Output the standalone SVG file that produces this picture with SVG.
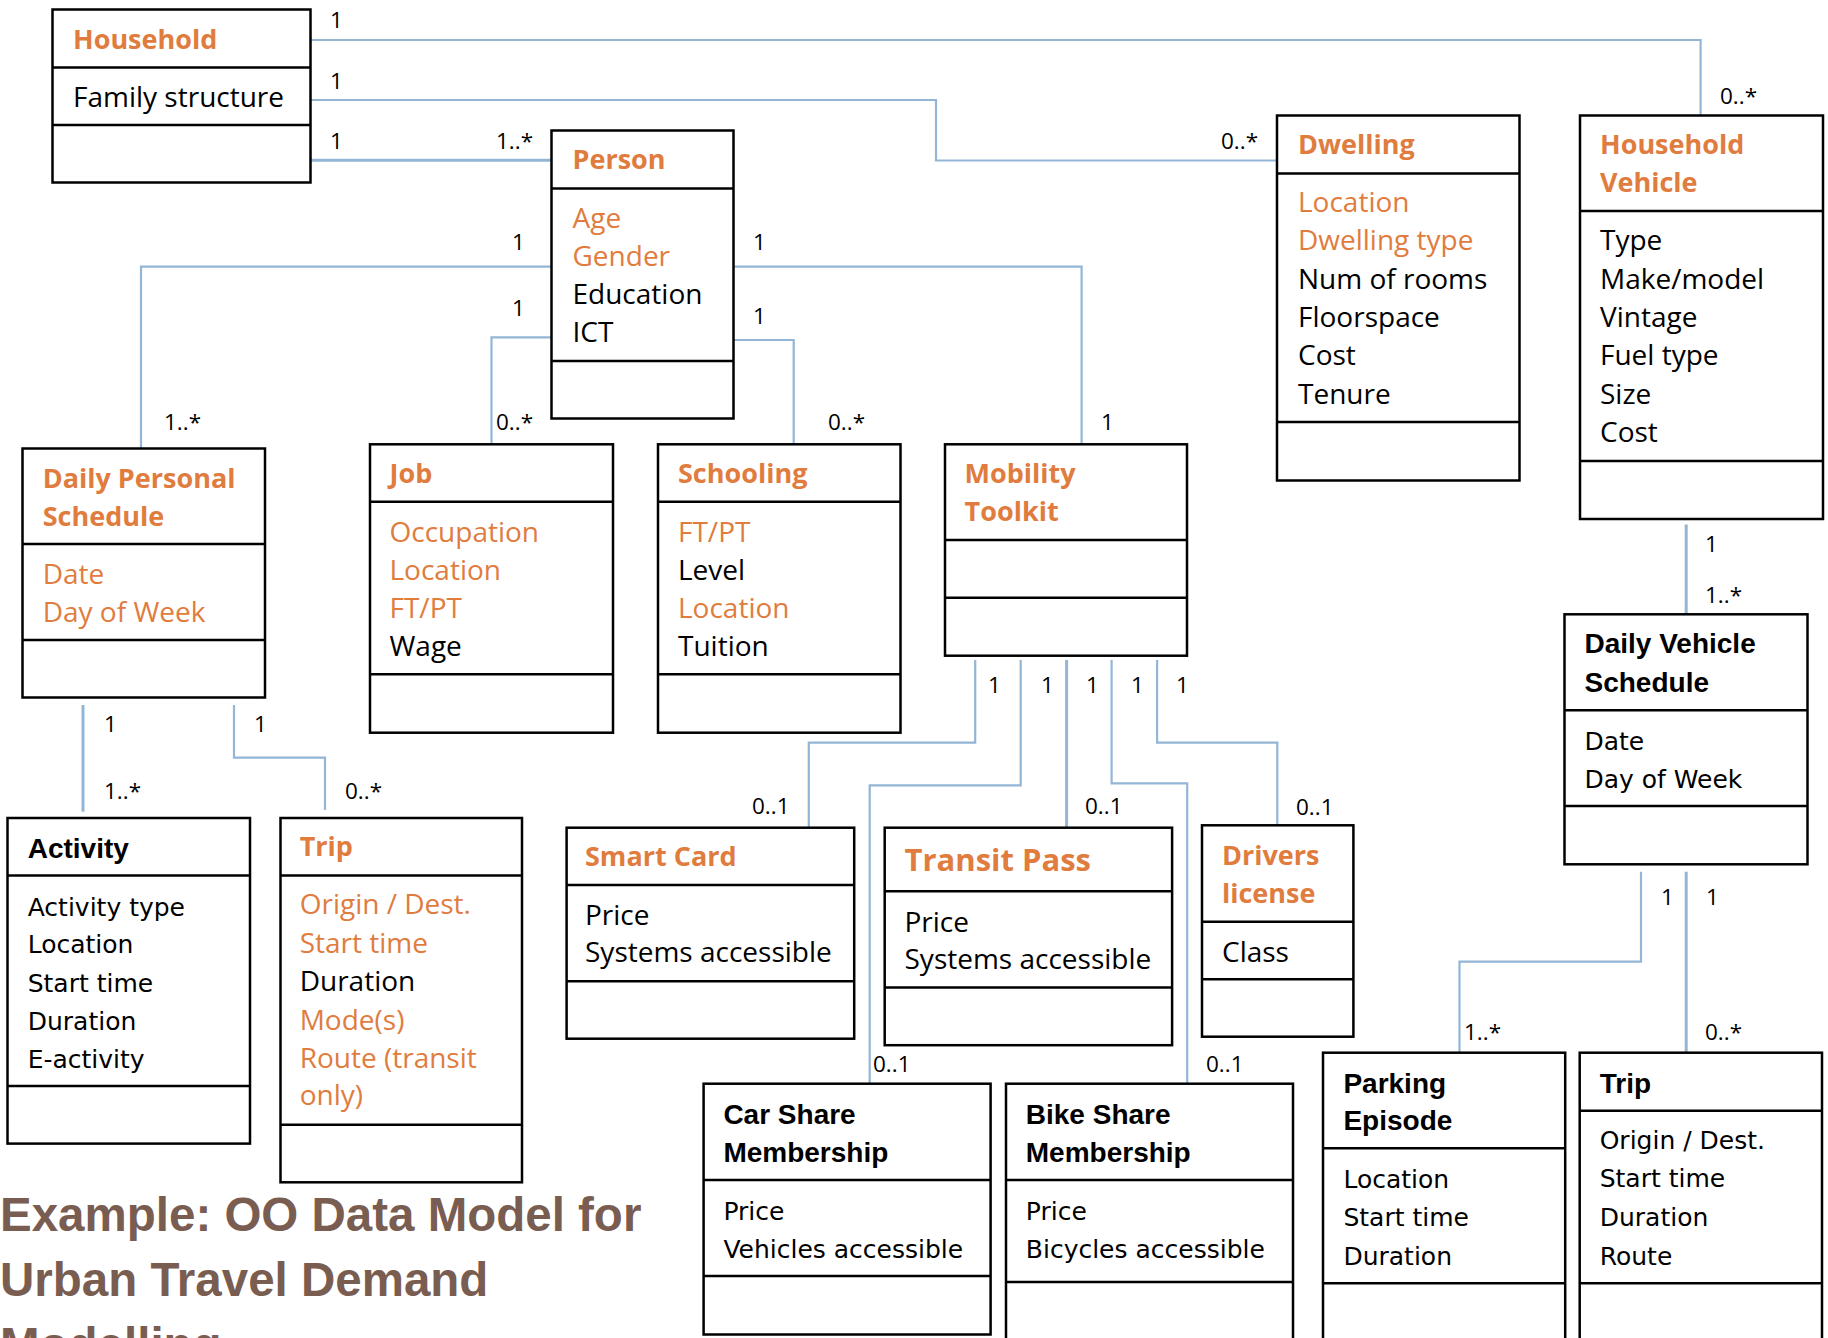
<svg xmlns="http://www.w3.org/2000/svg" width="1828" height="1338" viewBox="0 0 1828 1338">
<style>
.box{fill:#fff;stroke:#000;stroke-width:2.5}
.dv{stroke:#000;stroke-width:2.5}
.c{font-family:'Open Sans','Liberation Sans',sans-serif;font-size:28px;fill:#000}
.ct{font-family:'Open Sans','Liberation Sans',sans-serif;font-size:27px;font-weight:bold;fill:#E07C3E}
.or{fill:#E07C3E}
.g{font-family:'DejaVu Sans',sans-serif;font-size:25px;fill:#000}
.gb{font-family:'Liberation Sans',sans-serif;font-size:28px;font-weight:bold;fill:#000}
.m{font-family:'Open Sans','Liberation Sans',sans-serif;font-size:22.5px;fill:#000}
.conn{fill:none;stroke:#93B5D6;stroke-width:2.2}
.thick{stroke-width:3}
.title{font-family:'Liberation Sans',sans-serif;font-size:47.5px;font-weight:bold;fill:#7A5D51}
</style>
<rect width="1828" height="1338" fill="#fff"/>
<g id="connectors">
<path class="conn" d="M310.5,40 H1700.6 V115.5"/>
<path class="conn" d="M310.5,100 H936 V160.5 H1277"/>
<path class="conn thick" d="M310.5,160.3 H551.5"/>
<path class="conn" d="M551.5,266.7 H141 V448.5"/>
<path class="conn" d="M551.5,337.3 H491.5 V444.3"/>
<path class="conn" d="M733.3,266.7 H1081.6 V444.3"/>
<path class="conn" d="M733.3,340 H793.7 V444.3"/>
<path class="conn thick" d="M1686.2,524.5 V614.3"/>
<path class="conn thick" d="M83,705 V811.7"/>
<path class="conn" d="M234,705 V757.7 H325 V810"/>
<path class="conn" d="M975.2,660 V742.7 H808.8 V827.7"/>
<path class="conn" d="M1020.7,660 V785.3 H869.7 V1083.7"/>
<path class="conn thick" d="M1066.6,660 V827.7"/>
<path class="conn" d="M1111.6,660 V783.3 H1187.2 V1083.7"/>
<path class="conn" d="M1157.1,660 V742.7 H1277.3 V825.3"/>
<path class="conn" d="M1641,871.7 V961.7 H1459.5 V1052.7"/>
<path class="conn thick" d="M1686.2,871.7 V1052.7"/>
</g>
<g id="multiplicities">
<text class="m" x="330" y="28">1</text>
<text class="m" x="330" y="89">1</text>
<text class="m" x="330" y="149">1</text>
<text class="m" x="496" y="149">1..*</text>
<text class="m" x="1221" y="149">0..*</text>
<text class="m or" x="1720" y="104">0..*</text>
<text class="m" x="512" y="250">1</text>
<text class="m" x="512" y="316">1</text>
<text class="m" x="164" y="430">1..*</text>
<text class="m" x="496" y="430">0..*</text>
<text class="m" x="753" y="250">1</text>
<text class="m" x="753" y="324">1</text>
<text class="m" x="828" y="430">0..*</text>
<text class="m" x="1101" y="430">1</text>
<text class="m" x="1705" y="552">1</text>
<text class="m" x="1705" y="603">1..*</text>
<text class="m" x="104" y="732">1</text>
<text class="m" x="254" y="732">1</text>
<text class="m" x="104" y="799">1..*</text>
<text class="m" x="345" y="799">0..*</text>
<text class="m" x="988" y="693">1</text>
<text class="m" x="1041" y="693">1</text>
<text class="m" x="1086" y="693">1</text>
<text class="m" x="1131" y="693">1</text>
<text class="m" x="1176" y="693">1</text>
<text class="m" x="752" y="814">0..1</text>
<text class="m" x="1085" y="814">0..1</text>
<text class="m" x="1296" y="815">0..1</text>
<text class="m" x="873" y="1072">0..1</text>
<text class="m" x="1206" y="1072">0..1</text>
<text class="m" x="1661" y="905">1</text>
<text class="m" x="1706" y="905">1</text>
<text class="m" x="1464" y="1040">1..*</text>
<text class="m" x="1705" y="1040">0..*</text>
</g>
<g id="household">
<rect class="box" x="52.5" y="9.5" width="258" height="173"/>
<line class="dv" x1="52.5" y1="67.5" x2="310.5" y2="67.5"/>
<line class="dv" x1="52.5" y1="125" x2="310.5" y2="125"/>
<text class="ct" x="73" y="49">Household</text>
<text class="c" x="73" y="107">Family structure</text>
</g>
<g id="person">
<rect class="box" x="551.5" y="130.5" width="182" height="288"/>
<line class="dv" x1="551.5" y1="188.5" x2="733.5" y2="188.5"/>
<line class="dv" x1="551.5" y1="361" x2="733.5" y2="361"/>
<text class="ct" x="572.5" y="169">Person</text>
<text class="c or" x="572.5" y="227.7">Age</text>
<text class="c or" x="572.5" y="265.5">Gender</text>
<text class="c" x="572.5" y="304">Education</text>
<text class="c" x="572.5" y="342">ICT</text>
</g>
<g id="dwelling">
<rect class="box" x="1277" y="115.5" width="242.5" height="365"/>
<line class="dv" x1="1277" y1="173.5" x2="1519.5" y2="173.5"/>
<line class="dv" x1="1277" y1="422" x2="1519.5" y2="422"/>
<text class="ct" x="1298" y="153.5">Dwelling</text>
<text class="c or" x="1298" y="211.5">Location</text>
<text class="c or" x="1298" y="250">Dwelling type</text>
<text class="c" x="1298" y="288.7">Num of rooms</text>
<text class="c" x="1298" y="327">Floorspace</text>
<text class="c" x="1298" y="365.2">Cost</text>
<text class="c" x="1298" y="403.7">Tenure</text>
</g>
<g id="household-vehicle">
<rect class="box" x="1580" y="115.5" width="243" height="403.5"/>
<line class="dv" x1="1580" y1="211" x2="1823" y2="211"/>
<line class="dv" x1="1580" y1="461" x2="1823" y2="461"/>
<text class="ct" x="1600" y="154.4">Household</text>
<text class="ct" x="1600" y="192.2">Vehicle</text>
<text class="c" x="1600" y="250.1">Type</text>
<text class="c" x="1600" y="288.7">Make/model</text>
<text class="c" x="1600" y="327">Vintage</text>
<text class="c" x="1600" y="365.2">Fuel type</text>
<text class="c" x="1600" y="403.7">Size</text>
<text class="c" x="1600" y="442.3">Cost</text>
</g>
<g id="daily-personal-schedule">
<rect class="box" x="22.5" y="448.5" width="242.5" height="249"/>
<line class="dv" x1="22.5" y1="544" x2="265" y2="544"/>
<line class="dv" x1="22.5" y1="640" x2="265" y2="640"/>
<text class="ct" x="42.7" y="488.3">Daily Personal</text>
<text class="ct" x="42.7" y="526">Schedule</text>
<text class="c or" x="42.7" y="584">Date</text>
<text class="c or" x="42.7" y="621.7">Day of Week</text>
</g>
<g id="job">
<rect class="box" x="370" y="444.3" width="243" height="288.4"/>
<line class="dv" x1="370" y1="501.7" x2="613" y2="501.7"/>
<line class="dv" x1="370" y1="674.3" x2="613" y2="674.3"/>
<text class="ct" x="389.5" y="483.3">Job</text>
<text class="c or" x="389.5" y="541.7">Occupation</text>
<text class="c or" x="389.5" y="580">Location</text>
<text class="c or" x="389.5" y="617.7">FT/PT</text>
<text class="c" x="389.5" y="656">Wage</text>
</g>
<g id="schooling">
<rect class="box" x="658" y="444.3" width="242.5" height="288.4"/>
<line class="dv" x1="658" y1="501.7" x2="900.5" y2="501.7"/>
<line class="dv" x1="658" y1="674.3" x2="900.5" y2="674.3"/>
<text class="ct" x="678" y="483.3">Schooling</text>
<text class="c or" x="678" y="541.7">FT/PT</text>
<text class="c" x="678" y="580">Level</text>
<text class="c or" x="678" y="617.7">Location</text>
<text class="c" x="678" y="656">Tuition</text>
</g>
<g id="mobility-toolkit">
<rect class="box" x="945" y="444.3" width="242" height="211.4"/>
<line class="dv" x1="945" y1="540" x2="1187" y2="540"/>
<line class="dv" x1="945" y1="597.7" x2="1187" y2="597.7"/>
<text class="ct" x="964.6" y="483.3">Mobility</text>
<text class="ct" x="964.6" y="521">Toolkit</text>
</g>
<g id="daily-vehicle-schedule">
<rect class="box" x="1564.5" y="614.3" width="243" height="250"/>
<line class="dv" x1="1564.5" y1="710.3" x2="1807.5" y2="710.3"/>
<line class="dv" x1="1564.5" y1="806" x2="1807.5" y2="806"/>
<text class="gb" x="1584.5" y="653.3">Daily Vehicle</text>
<text class="gb" x="1584.5" y="691.7">Schedule</text>
<text class="g" x="1584.5" y="750">Date</text>
<text class="g" x="1584.5" y="788.3">Day of Week</text>
</g>
<g id="activity">
<rect class="box" x="7.5" y="818" width="242.5" height="325.6"/>
<line class="dv" x1="7.5" y1="875.5" x2="250" y2="875.5"/>
<line class="dv" x1="7.5" y1="1086" x2="250" y2="1086"/>
<text class="gb" x="27.7" y="857.5">Activity</text>
<text class="g" x="27.7" y="915.7">Activity type</text>
<text class="g" x="27.7" y="953.4">Location</text>
<text class="g" x="27.7" y="991.8">Start time</text>
<text class="g" x="27.7" y="1029.8">Duration</text>
<text class="g" x="27.7" y="1067.5">E-activity</text>
</g>
<g id="trip-person">
<rect class="box" x="280.5" y="818" width="241.5" height="364.3"/>
<line class="dv" x1="280.5" y1="875.6" x2="522" y2="875.6"/>
<line class="dv" x1="280.5" y1="1124.8" x2="522" y2="1124.8"/>
<text class="ct" x="299.7" y="855.7">Trip</text>
<text class="c or" x="299.7" y="914">Origin / Dest.</text>
<text class="c or" x="299.7" y="952.7">Start time</text>
<text class="c" x="299.7" y="991">Duration</text>
<text class="c or" x="299.7" y="1029.8">Mode(s)</text>
<text class="c or" x="299.7" y="1067.5">Route (transit</text>
<text class="c or" x="299.7" y="1105.2">only)</text>
</g>
<g id="smart-card">
<rect class="box" x="566.6" y="827.7" width="287.6" height="211"/>
<line class="dv" x1="566.6" y1="885.1" x2="854.2" y2="885.1"/>
<line class="dv" x1="566.6" y1="981.3" x2="854.2" y2="981.3"/>
<text class="ct" x="585" y="866.2">Smart Card</text>
<text class="c" x="585" y="924.6">Price</text>
<text class="c" x="585" y="962.4">Systems accessible</text>
</g>
<g id="transit-pass">
<rect class="box" x="884.7" y="827.7" width="287.4" height="217.5"/>
<line class="dv" x1="884.7" y1="891.3" x2="1172.1" y2="891.3"/>
<line class="dv" x1="884.7" y1="987.5" x2="1172.1" y2="987.5"/>
<text class="ct" x="904.5" y="871.4" style="font-size:31px">Transit Pass</text>
<text class="c" x="904.5" y="931.5">Price</text>
<text class="c" x="904.5" y="969.3">Systems accessible</text>
</g>
<g id="drivers-license">
<rect class="box" x="1202" y="825.3" width="151.4" height="211.4"/>
<line class="dv" x1="1202" y1="921.7" x2="1353.4" y2="921.7"/>
<line class="dv" x1="1202" y1="979.3" x2="1353.4" y2="979.3"/>
<text class="ct" x="1222" y="865">Drivers</text>
<text class="ct" x="1222" y="903.3">license</text>
<text class="c" x="1222" y="961.7">Class</text>
</g>
<g id="car-share">
<rect class="box" x="703.6" y="1083.7" width="287" height="250.8"/>
<line class="dv" x1="703.6" y1="1179.9" x2="990.6" y2="1179.9"/>
<line class="dv" x1="703.6" y1="1276.1" x2="990.6" y2="1276.1"/>
<text class="gb" x="723.4" y="1123.9">Car Share</text>
<text class="gb" x="723.4" y="1161.7">Membership</text>
<text class="g" x="723.4" y="1220.1">Price</text>
<text class="g" x="723.4" y="1257.9">Vehicles accessible</text>
</g>
<g id="bike-share">
<rect class="box" x="1006" y="1083.7" width="287" height="270"/>
<line class="dv" x1="1006" y1="1179.9" x2="1293" y2="1179.9"/>
<line class="dv" x1="1006" y1="1282" x2="1293" y2="1282"/>
<text class="gb" x="1025.8" y="1123.9">Bike Share</text>
<text class="gb" x="1025.8" y="1161.7">Membership</text>
<text class="g" x="1025.8" y="1220.1">Price</text>
<text class="g" x="1025.8" y="1257.9">Bicycles accessible</text>
</g>
<g id="parking-episode">
<rect class="box" x="1323" y="1052.7" width="242.2" height="300"/>
<line class="dv" x1="1323" y1="1148.3" x2="1565.2" y2="1148.3"/>
<line class="dv" x1="1323" y1="1283.3" x2="1565.2" y2="1283.3"/>
<text class="gb" x="1343.4" y="1092.7">Parking</text>
<text class="gb" x="1343.4" y="1130">Episode</text>
<text class="g" x="1343.4" y="1188.3">Location</text>
<text class="g" x="1343.4" y="1226">Start time</text>
<text class="g" x="1343.4" y="1265">Duration</text>
</g>
<g id="trip-vehicle">
<rect class="box" x="1579.7" y="1052.7" width="242.3" height="300"/>
<line class="dv" x1="1579.7" y1="1110.7" x2="1822" y2="1110.7"/>
<line class="dv" x1="1579.7" y1="1283.3" x2="1822" y2="1283.3"/>
<text class="gb" x="1599.7" y="1092.7">Trip</text>
<text class="g" x="1599.7" y="1149.3">Origin / Dest.</text>
<text class="g" x="1599.7" y="1187.3">Start time</text>
<text class="g" x="1599.7" y="1226">Duration</text>
<text class="g" x="1599.7" y="1265">Route</text>
</g>
<g id="title">
<text class="title" x="0" y="1231">Example: OO Data Model for</text>
<text class="title" x="0" y="1296">Urban Travel Demand</text>
<text class="title" x="0" y="1361">Modelling</text>
</g>
</svg>
